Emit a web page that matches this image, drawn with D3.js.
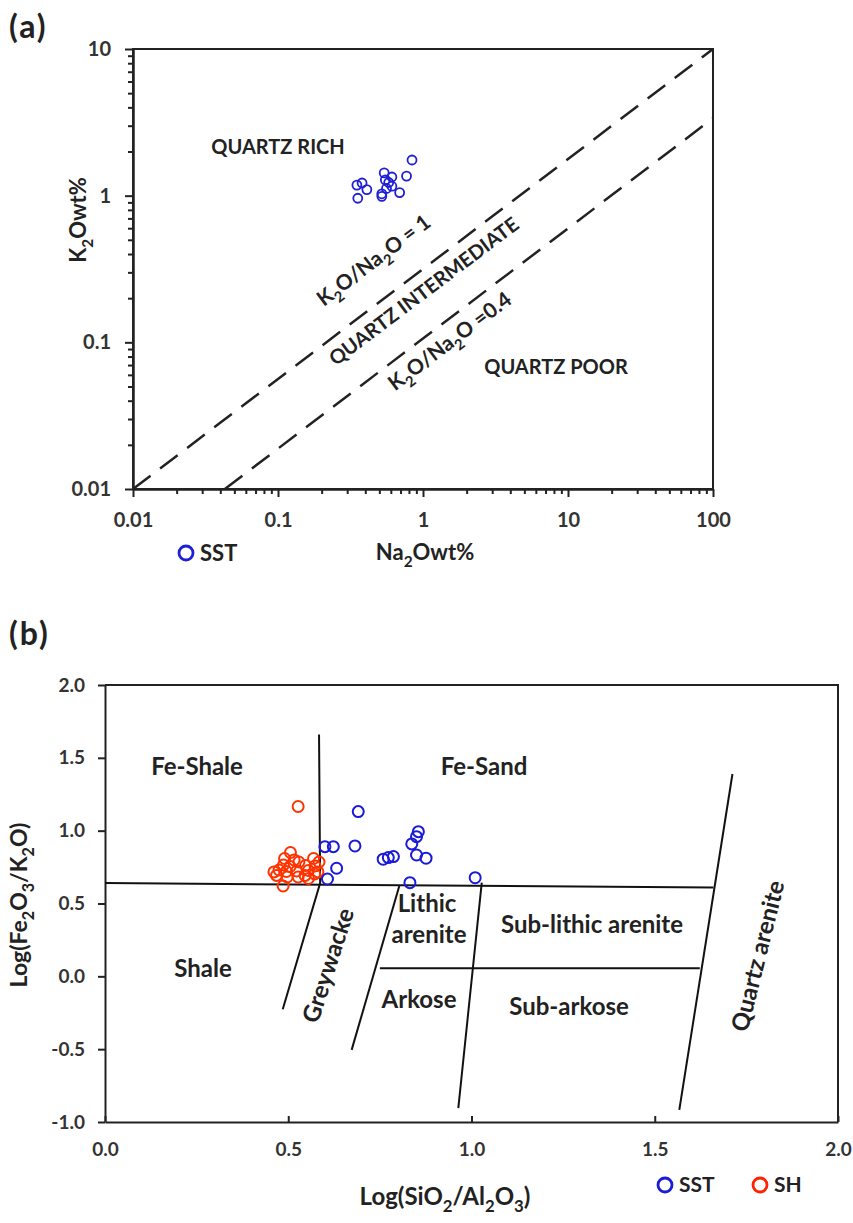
<!DOCTYPE html>
<html>
<head>
<meta charset="utf-8">
<script src="https://cdn.jsdelivr.net/npm/d3@7"></script>
<style>
  body { margin: 0; background: #fff; }
  svg text { font-family: Lato, "Liberation Sans", sans-serif; font-weight: bold; fill: #222; }
  .axis path, .axis line { stroke: #222; stroke-width: 2; }
  .axis text { fill: #333; }
</style>
</head>
<body>
<svg id="chart"></svg>
<script>
// ---- (a) K2O vs Na2O, sandstone samples (wt%)
var sstNa2O = [0.84, 0.77, 0.54, 0.61, 0.58, 0.55, 0.61, 0.52, 0.69, 0.35, 0.38, 0.41, 0.355, 0.56, 0.52];
var sstK2O  = [1.75, 1.36, 1.43, 1.34, 1.23, 1.28, 1.16, 1.03, 1.05, 1.18, 1.22, 1.10, 0.96, 1.12, 0.99];
// boundary lines [Na2O, K2O]
var ratioLine1  = [[0.01, 0.01], [100, 10]];
var ratioLine04 = [[0.043, 0.01], [100, 3.37]];
var ticksAx = [0.01, 0.1, 1, 10, 100];
var ticksAy = [0.01, 0.1, 1, 10];

// ---- (b) Log(Fe2O3/K2O) vs Log(SiO2/Al2O3)
var sstSiAl = [0.691, 0.600, 0.623, 0.682, 0.632, 0.607, 0.759, 0.773, 0.787, 0.832, 0.837, 0.850, 0.855, 0.850, 0.876, 1.010];
var sstFeK  = [1.131, 0.890, 0.890, 0.895, 0.742, 0.668, 0.804, 0.815, 0.822, 0.643, 0.909, 0.959, 0.993, 0.833, 0.811, 0.677];
var shSiAl = [0.527, 0.506, 0.490, 0.516, 0.529, 0.569, 0.584, 0.505, 0.487, 0.475, 0.461, 0.468,
              0.495, 0.523, 0.547, 0.555, 0.573, 0.546, 0.555, 0.572, 0.486, 0.497, 0.527, 0.581];
var shFeK  = [1.166, 0.850, 0.809, 0.799, 0.785, 0.809, 0.785, 0.754, 0.765, 0.730, 0.717, 0.693,
              0.720, 0.723, 0.761, 0.727, 0.758, 0.693, 0.672, 0.703, 0.620, 0.682, 0.682, 0.717];
// Herron (1988) field boundaries
var herronLines = [
  [[0, 0.64], [1.66, 0.61]],
  [[0.584, 1.66], [0.587, 0.64], [0.485, -0.226]],
  [[0.803, 0.62], [0.673, -0.505]],
  [[1.028, 0.643], [0.964, -0.905]],
  [[0.75, 0.056], [1.623, 0.056]],
  [[1.712, 1.389], [1.567, -0.917]]
];
var ticksBx = [0, 0.5, 1, 1.5, 2];
var ticksBy = [-1, -0.5, 0, 0.5, 1, 1.5, 2];

var width = 853, height = 1223;
var svg = d3.select("#chart").attr("width", width).attr("height", height);

// text with "_2" style subscripts
function subText(sel, str, size) {
  var shift = 0;
  sel.attr("font-size", size);
  str.split(/_(\d)/).forEach(function(p, i) {
    if (p === "") return;
    var isSub = i % 2 === 1;
    sel.append("tspan").text(p)
      .attr("font-size", isSub ? size * 0.7 : size)
      .attr("dy", (isSub ? size * 0.3 : 0) - shift);
    shift = isSub ? size * 0.3 : 0;
  });
  return sel;
}

function label(g, str, x, y, size, angle) {
  var t = g.append("text")
    .attr("text-anchor", "middle")
    .attr("transform", "translate(" + x + "," + y + ") rotate(" + (angle || 0) + ")")
    .attr("dy", "0.35em");
  return subText(t, str, size);
}

function minorTicks(scale, major) {
  return scale.ticks().filter(function(d) {
    return major.every(function(m) { return Math.abs(m - d) > 1e-9; });
  });
}

//Panel (a)
function drawA() {
  var g = svg.append("g");
  var x = d3.scaleLog().domain([0.01, 100]).range([133, 713]);
  var y = d3.scaleLog().domain([0.01, 10]).range([489, 49]);

  g.append("text").attr("x", 9).attr("y", 38).attr("font-size", 32)
    .attr("letter-spacing", 2).text("(a)");

  // minor ticks
  g.append("g").attr("class", "axis").attr("transform", "translate(0,489)")
    .call(d3.axisBottom(x).tickValues(minorTicks(x, ticksAx)).tickSize(5).tickSizeOuter(0).tickFormat(""));
  g.append("g").attr("class", "axis").attr("transform", "translate(133,0)")
    .call(d3.axisLeft(y).tickValues(minorTicks(y, ticksAy)).tickSize(5).tickSizeOuter(0).tickFormat(""));

  g.append("g").attr("class", "axis").attr("transform", "translate(0,489)")
    .call(d3.axisBottom(x).tickValues(ticksAx).tickSize(8).tickSizeOuter(0).tickPadding(16)
      .tickFormat(function(d) { return String(d); }))
    .selectAll("text").attr("font-size", 20);
  g.append("g").attr("class", "axis").attr("transform", "translate(133,0)")
    .call(d3.axisLeft(y).tickValues(ticksAy).tickSize(8).tickSizeOuter(0).tickPadding(14)
      .tickFormat(function(d) { return String(d); }))
    .selectAll("text").attr("font-size", 20);

  g.append("rect").attr("x", 133).attr("y", 49).attr("width", 580).attr("height", 440)
    .attr("fill", "none").attr("stroke", "#222").attr("stroke-width", 2);

  var line = d3.line().x(function(d) { return x(d[0]); }).y(function(d) { return y(d[1]); });
  [ratioLine1, ratioLine04].forEach(function(l) {
    g.append("path").attr("d", line(l)).attr("fill", "none")
      .attr("stroke", "#222").attr("stroke-width", 2.5).attr("stroke-dasharray", "22,12");
  });

  g.selectAll(".ptA").data(sstNa2O).enter().append("circle")
    .attr("cx", function(d) { return x(d); })
    .attr("cy", function(d, i) { return y(sstK2O[i]); })
    .attr("r", 4.5).attr("fill", "none").attr("stroke", "#1f1fd6").attr("stroke-width", 1.8);

  label(g, "QUARTZ RICH", 278, 154, 20);
  label(g, "K_2O/Na_2O = 1", 378, 266, 21, -37);
  label(g, "QUARTZ INTERMEDIATE", 428, 297, 20, -37);
  label(g, "K_2O/Na_2O =0.4", 454, 347, 21, -37);
  label(g, "QUARTZ POOR", 556, 374, 20);

  label(g, "Na_2Owt%", 425, 560, 22);
  label(g, "K_2Owt%", 86, 220, 22, -90);

  g.append("circle").attr("cx", 186).attr("cy", 553).attr("r", 7)
    .attr("fill", "none").attr("stroke", "#1f1fd6").attr("stroke-width", 2.8);
  g.append("text").attr("x", 200).attr("y", 553).attr("dy", "0.35em").attr("font-size", 22).text("SST");
}

//Panel (b)
function drawB() {
  var g = svg.append("g");
  var x = d3.scaleLinear().domain([0, 2]).range([105, 838]);
  var y = d3.scaleLinear().domain([-1, 2]).range([1122, 685]);
  var fmt = function(d) { return d.toFixed(1); };

  g.append("text").attr("x", 9).attr("y", 645).attr("font-size", 32)
    .attr("letter-spacing", 2).text("(b)");

  g.append("g").attr("class", "axis").attr("transform", "translate(0,1122)")
    .call(d3.axisBottom(x).tickValues(ticksBx).tickSizeInner(-6).tickSizeOuter(0).tickPadding(21).tickFormat(fmt))
    .selectAll("text").attr("font-size", 19);
  g.append("g").attr("class", "axis").attr("transform", "translate(105,0)")
    .call(d3.axisLeft(y).tickValues(ticksBy).tickSize(7).tickSizeOuter(0).tickPadding(13).tickFormat(fmt))
    .selectAll("text").attr("font-size", 19);

  g.append("path").attr("d", "M105," + y(2) + "H" + x(2) + "V" + y(-1))
    .attr("fill", "none").attr("stroke", "#222").attr("stroke-width", 2);

  var line = d3.line().x(function(d) { return x(d[0]); }).y(function(d) { return y(d[1]); });
  g.selectAll(".herron").data(herronLines).enter().append("path")
    .attr("d", line).attr("fill", "none").attr("stroke", "#111").attr("stroke-width", 2);

  g.selectAll(".sh").data(shSiAl).enter().append("circle")
    .attr("cx", function(d) { return x(d); })
    .attr("cy", function(d, i) { return y(shFeK[i]); })
    .attr("r", 5.5).attr("fill", "none").attr("stroke", "#ff3300").attr("stroke-width", 2);
  g.selectAll(".sst").data(sstSiAl).enter().append("circle")
    .attr("cx", function(d) { return x(d); })
    .attr("cy", function(d, i) { return y(sstFeK[i]); })
    .attr("r", 5.5).attr("fill", "none").attr("stroke", "#1a1ad8").attr("stroke-width", 2);

  label(g, "Fe-Shale", 197, 775, 24);
  label(g, "Fe-Sand", 484, 775, 24);
  label(g, "Lithic", 427, 912, 24);
  label(g, "arenite", 429, 943, 24);
  label(g, "Sub-lithic arenite", 592, 933, 24);
  label(g, "Shale", 203, 977, 24);
  label(g, "Greywacke", 336, 968, 24, -72);
  label(g, "Arkose", 419, 1008, 24);
  label(g, "Sub-arkose", 569, 1015, 24);
  label(g, "Quartz arenite", 766, 958, 24, -76);

  label(g, "Log(SiO_2/Al_2O_3)", 445, 1205, 24);
  label(g, "Log(Fe_2O_3/K_2O)", 27, 905, 23, -90);

  g.append("circle").attr("cx", 665).attr("cy", 1185).attr("r", 7)
    .attr("fill", "none").attr("stroke", "#1a1ad8").attr("stroke-width", 2.8);
  g.append("text").attr("x", 679).attr("y", 1185).attr("dy", "0.35em").attr("font-size", 21).text("SST");
  g.append("circle").attr("cx", 760).attr("cy", 1185).attr("r", 7)
    .attr("fill", "none").attr("stroke", "#ff2200").attr("stroke-width", 2.8);
  g.append("text").attr("x", 774).attr("y", 1185).attr("dy", "0.35em").attr("font-size", 21).text("SH");
}

drawA();
drawB();
</script>
</body>
</html>
